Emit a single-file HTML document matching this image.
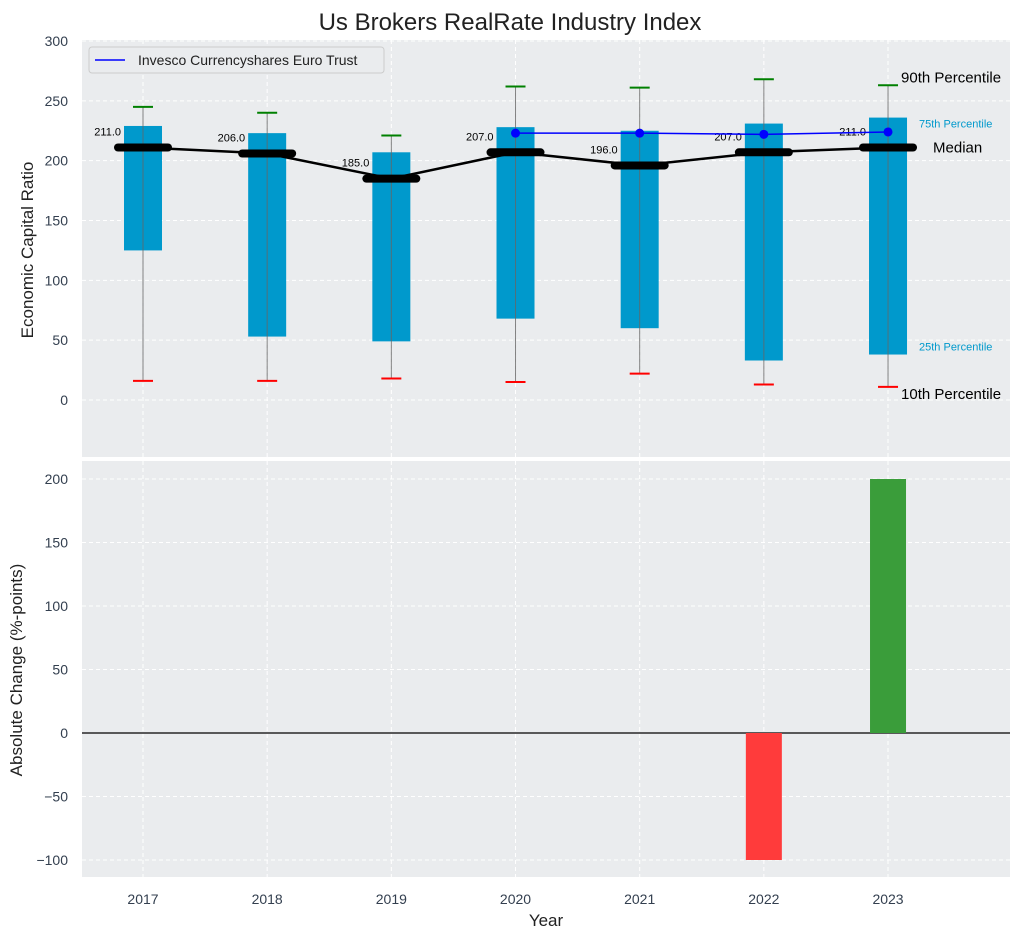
<!DOCTYPE html>
<html><head><meta charset="utf-8"><style>
body{margin:0;background:#fff;}
svg{display:block;font-family:"Liberation Sans",sans-serif;}
</style></head><body>
<svg id="c" width="1021" height="940"></svg>
<script>
const years=[2017,2018,2019,2020,2021,2022,2023];
const p10=[16,16,18,15,22,13,11];
const q25=[125,53,49,68,60,33,38];
const median=[211,206,185,207,196,207,211];
const q75=[229,223,207,228,225,231,236];
const p90=[245,240,221,262,261,268,263];
const invYears=[2020,2021,2022,2023];
const invVals=[223,223,222,224];
const changeVals=[0,0,0,0,0,-100,200];
const topTicks=[0,50,100,150,200,250,300];
const botTicks=[-100,-50,0,50,100,150,200];

const NS="http://www.w3.org/2000/svg";
const svg=document.getElementById('c');
function el(t,a,p){const e=document.createElementNS(NS,t);for(const k in a)e.setAttribute(k,a[k]);(p||svg).appendChild(e);return e;}
const L=82,R=1010;
const x=i=>143+i*124.17;
const yT=v=>400-v*(359/300);
const yB=v=>733-v*1.27;
const bg="#eaecee";
let r=el('rect',{x:L,y:40,width:R-L,height:417,fill:bg});

r=el('rect',{x:L,y:461,width:R-L,height:416,fill:bg});

years.forEach((yr,i)=>{
 el('line',{x1:x(i),x2:x(i),y1:40,y2:457,stroke:'#fff','stroke-dasharray':'4,3'});
 el('line',{x1:x(i),x2:x(i),y1:461,y2:877,stroke:'#fff','stroke-dasharray':'4,3'});
 let t=el('text',{x:x(i),y:904,'text-anchor':'middle','font-size':14,fill:'#333f4f'});t.textContent=yr;
 
});
topTicks.forEach(v=>{
 el('line',{x1:L,x2:R,y1:yT(v),y2:yT(v),stroke:'#fff','stroke-dasharray':'4,3'});
 let t=el('text',{x:68,y:yT(v)+5,'text-anchor':'end','font-size':14,fill:'#333f4f'});t.textContent=v;
 
});
botTicks.forEach(v=>{
 el('line',{x1:L,x2:R,y1:yB(v),y2:yB(v),stroke:'#fff','stroke-dasharray':'4,3'});
 let t=el('text',{x:68,y:yB(v)+5,'text-anchor':'end','font-size':14,fill:'#333f4f'});t.textContent=(v<0?'\u2212'+(-v):v);
 
});
years.forEach((yr,i)=>{
 let b=el('rect',{x:x(i)-19,y:yT(q75[i]),width:38,height:yT(q25[i])-yT(q75[i]),fill:'#0099cc'});
 
 el('line',{x1:x(i),x2:x(i),y1:yT(p90[i]),y2:yT(p10[i]),stroke:'#666','stroke-width':1,opacity:0.8});
 el('line',{x1:x(i)-10,x2:x(i)+10,y1:yT(p90[i]),y2:yT(p90[i]),stroke:'green','stroke-width':2});
 el('line',{x1:x(i)-10,x2:x(i)+10,y1:yT(p10[i]),y2:yT(p10[i]),stroke:'red','stroke-width':2});
});
let pts=years.map((yr,i)=>x(i)+','+yT(median[i])).join(' ');
let ml=el('polyline',{points:pts,fill:'none',stroke:'#000','stroke-width':2.5});

years.forEach((yr,i)=>{
 let m=el('line',{x1:x(i)-25,x2:x(i)+25,y1:yT(median[i]),y2:yT(median[i]),stroke:'#000','stroke-width':8,'stroke-linecap':'round'});
 
 let t=el('text',{x:x(i)-22,y:yT(median[i])-12,'text-anchor':'end','font-size':11});t.textContent=median[i].toFixed(1);
 
});
const inv=el('polyline',{points:invYears.map((yr,k)=>x(years.indexOf(yr))+','+yT(invVals[k])).join(' '),fill:'none',stroke:'blue','stroke-width':1.5});

invYears.forEach((yr,k)=>{
 let c=el('circle',{cx:x(years.indexOf(yr)),cy:yT(invVals[k]),r:4.5,fill:'blue'});
 
});
const n=6;
[['90th Percentile',x(n)+13,yT(p90[n])-3,15,'#000'],['75th Percentile',x(n)+31,yT(q75[n])+10,11,'#0099cc'],['Median',x(n)+45,yT(median[n])+5,15,'#000'],['25th Percentile',x(n)+31,yT(q25[n])-4,11,'#0099cc'],['10th Percentile',x(n)+13,yT(p10[n])+12,15,'#000']].forEach(a=>{
 let t=el('text',{x:a[1],y:a[2],'font-size':a[3],fill:a[4]});t.textContent=a[0];
 
});
el('line',{x1:L,x2:R,y1:yB(0),y2:yB(0),stroke:'#000','stroke-width':1.2});
years.forEach((yr,i)=>{
 const v=changeVals[i]; if(!v) return;
 let b=el('rect',{x:x(i)-18,y:Math.min(yB(0),yB(v)),width:36,height:Math.abs(yB(v)-yB(0)),fill:v<0?'#ff3b3b':'#3a9d3a'});
 
});
let lg=el('g',{});
el('rect',{x:89,y:47,width:295,height:26,rx:3,fill:'#eaecee',stroke:'#ccc'},lg);
el('line',{x1:95,x2:125,y1:60,y2:60,stroke:'blue','stroke-width':1.5},lg);
let lt=el('text',{x:138,y:65,'font-size':14,fill:'#222'},lg);lt.textContent='Invesco Currencyshares Euro Trust';
let t=el('text',{x:510,y:30,'text-anchor':'middle','font-size':24,fill:'#222'});t.textContent='Us Brokers RealRate Industry Index';

t=el('text',{x:546,y:926,'text-anchor':'middle','font-size':17,fill:'#222'});t.textContent='Year';

t=el('text',{x:33,y:250,'text-anchor':'middle','font-size':17,fill:'#222',transform:'rotate(-90 33 250)'});t.textContent='Economic Capital Ratio';

t=el('text',{x:22,y:670,'text-anchor':'middle','font-size':17,fill:'#222',transform:'rotate(-90 22 670)'});t.textContent='Absolute Change (%-points)';

</script>
</body></html>
